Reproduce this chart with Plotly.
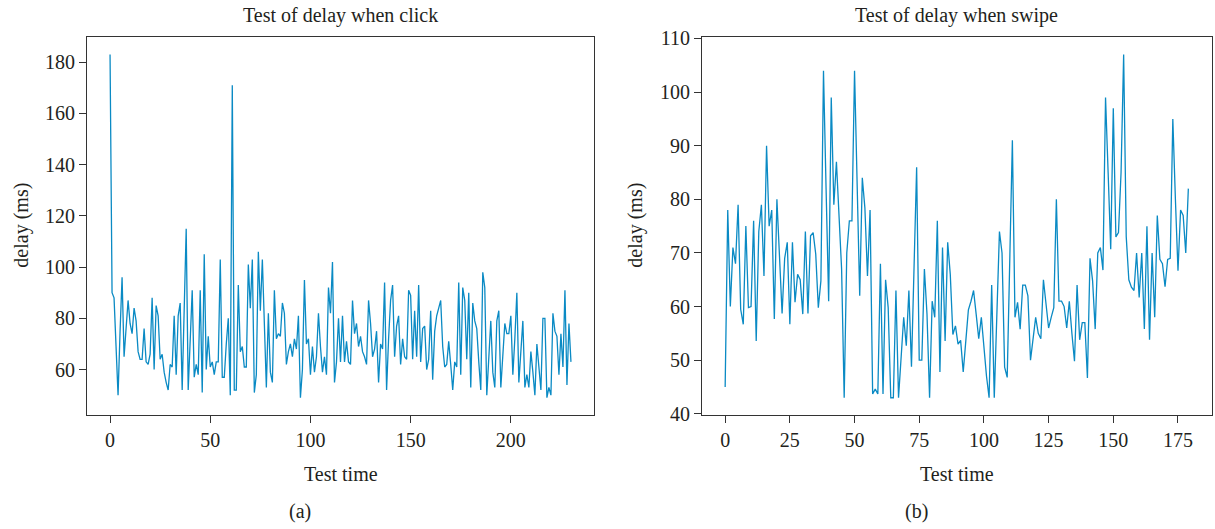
import plotly.graph_objects as go

# ---- data ----
click_delay = [183, 90, 88, 68, 50, 75, 96, 65, 78, 87, 78, 74, 84, 79, 67, 64, 64, 76, 63, 62,
               66, 88, 60, 85, 81, 64, 66, 59, 55, 52, 62, 61, 81, 58, 81, 86, 52, 80, 115, 52,
               72, 91, 57, 62, 58, 91, 51, 105, 60, 73, 61, 63, 58, 63, 63, 103, 57, 57, 70, 80,
               50, 171, 52, 52, 93, 67, 69, 61, 61, 101, 84, 103, 51, 58, 106, 83, 103, 78, 53, 82,
               59, 55, 91, 72, 74, 73, 86, 82, 62, 67, 70, 65, 72, 68, 81, 49, 60, 95, 70, 72,
               58, 69, 59, 65, 82, 69, 59, 65, 58, 92, 82, 102, 55, 63, 80, 63, 81, 63, 71, 63,
               62, 87, 74, 78, 69, 73, 67, 65, 62, 87, 78, 65, 68, 75, 55, 70, 68, 94, 52, 72,
               87, 93, 65, 77, 81, 62, 72, 65, 64, 91, 89, 64, 83, 65, 93, 63, 76, 77, 60, 64,
               83, 56, 75, 81, 84, 87, 69, 61, 62, 71, 62, 52, 63, 61, 94, 58, 92, 87, 64, 90,
               53, 86, 79, 76, 63, 52, 98, 92, 50, 64, 79, 59, 53, 79, 83, 53, 67, 78, 74, 74,
               81, 58, 72, 90, 55, 69, 79, 53, 58, 53, 67, 59, 50, 70, 60, 52, 80, 80, 49, 53,
               50, 82, 75, 73, 58, 74, 61, 91, 54, 78, 63]
click_time = list(range(len(click_delay)))

swipe_delay = [45, 78, 60, 71, 68, 79, 59.5, 56.7, 75, 59.8, 60, 76, 53.6, 74, 79, 65.7, 90, 75, 78, 57.7,
               80, 69, 58.7, 69, 72, 56.7, 72, 60.8, 66, 65, 58.6, 74, 58.7, 73.2, 73.8, 69.8, 59.8, 64.8, 104, 82,
               61, 99, 79, 87, 78, 67, 43, 70, 76, 76, 104, 83, 62, 84, 78.4, 65.7, 78, 43.7, 44.6, 43.7,
               68, 43.7, 65, 59.8, 43, 43, 63, 43, 50.7, 58, 52.7, 63, 48.8, 67, 86, 50, 50, 67, 58.6, 43,
               61, 58, 76, 47.8, 71, 53.6, 72, 66, 54.8, 56.4, 53, 53.7, 47.8, 53.6, 59.4, 61, 63, 58.6, 54, 58,
               52.4, 47, 43, 64, 43, 58, 74, 70, 48.7, 46.8, 69, 91, 58, 60.8, 55.8, 64, 64, 62, 50, 53.6,
               58, 55, 54, 65, 60.5, 56, 58, 59.8, 80, 61, 61, 60, 56, 61, 55, 49.8, 64, 53.8, 57, 57,
               46.7, 69, 64.8, 55.8, 70, 71, 66.8, 99, 85, 70.7, 97, 73, 73.8, 85, 107, 73, 65, 63.6, 63, 70,
               61.7, 70, 55.8, 75, 53.8, 70, 58, 77, 68.8, 68, 63.7, 68.8, 69, 95, 80, 66.7, 78, 77, 70, 82]
swipe_time = list(range(len(swipe_delay)))

left_xticks = [0, 50, 100, 150, 200]
left_yticks = [60, 80, 100, 120, 140, 160, 180]
right_xticks = [0, 25, 50, 75, 100, 125, 150, 175]
right_yticks = [40, 50, 60, 70, 80, 90, 100, 110]

titles = ["Test of delay when click", "Test of delay when swipe"]
panel_labels = ["(a)", "(b)"]
x_title = "Test time"
y_title = "delay (ms)"

# ---- styling ----
W, H = 1215, 529
FONT = "Liberation Serif, Times New Roman, serif"
LINE_COLOR = "#0a8ac4"
AX_COLOR = "#333333"
FS = 20

# empirical vertical correction of the capture (target px -> figure px)
Y_OFF, Y_SCALE = 8.5, 0.966


def px(x):
    return x / W


def py(y):
    yf = (y - Y_OFF) / Y_SCALE
    return 1 - yf / H


def pad(vals, frac=0.05):
    lo, hi = min(vals), max(vals)
    m = (hi - lo) * frac
    return [lo - m, hi + m]


fig = go.Figure()
fig.add_trace(go.Scatter(x=click_time, y=click_delay, mode="lines",
                         line=dict(color=LINE_COLOR, width=1.3),
                         xaxis="x", yaxis="y", showlegend=False))
fig.add_trace(go.Scatter(x=swipe_time, y=swipe_delay, mode="lines",
                         line=dict(color=LINE_COLOR, width=1.3),
                         xaxis="x2", yaxis="y2", showlegend=False))

axis_common = dict(showgrid=False, zeroline=False, showline=True, mirror=True,
                   linecolor=AX_COLOR, linewidth=1.2, ticks="outside", ticklen=7,
                   tickwidth=1.2, tickcolor=AX_COLOR,
                   tickfont=dict(family=FONT, size=FS, color="#231f20"))

left_dom = [px(87), px(594)]
right_dom = [px(702), px(1211.5)]
y_dom = [py(415), py(36)]

fig.update_layout(
    width=W, height=H,
    margin=dict(l=0, r=0, t=0, b=0),
    paper_bgcolor="white", plot_bgcolor="white",
    xaxis=dict(domain=left_dom, range=pad(click_time), tickvals=left_xticks,
               anchor="y", **axis_common),
    yaxis=dict(domain=y_dom, range=pad(click_delay), tickvals=left_yticks,
               anchor="x", **axis_common),
    xaxis2=dict(domain=right_dom, range=pad(swipe_time), tickvals=right_xticks,
                anchor="y2", **axis_common),
    yaxis2=dict(domain=y_dom, range=pad(swipe_delay), tickvals=right_yticks,
                anchor="x2", **axis_common),
)

text_font = dict(family=FONT, size=FS, color="#231f20")
ann = []
centers = [(87 + 594) / 2, (702 + 1211.5) / 2]
for i in range(2):
    ann.append(dict(text=titles[i], x=px(centers[i]), y=py(14), xref="paper", yref="paper",
                    xanchor="center", yanchor="middle", showarrow=False, font=text_font))
    ann.append(dict(text=x_title, x=px(centers[i]), y=py(474), xref="paper", yref="paper",
                    xanchor="center", yanchor="middle", showarrow=False, font=text_font))
ann.append(dict(text=panel_labels[0], x=px(300), y=py(512), xref="paper", yref="paper",
                xanchor="center", yanchor="middle", showarrow=False, font=text_font))
ann.append(dict(text=panel_labels[1], x=px(916), y=py(512), xref="paper", yref="paper",
                xanchor="center", yanchor="middle", showarrow=False, font=text_font))
ann.append(dict(text=y_title, x=px(22), y=py(225), xref="paper", yref="paper",
                xanchor="center", yanchor="middle", textangle=-90, showarrow=False, font=text_font))
ann.append(dict(text=y_title, x=px(636), y=py(225), xref="paper", yref="paper",
                xanchor="center", yanchor="middle", textangle=-90, showarrow=False, font=text_font))
fig.update_layout(annotations=ann)

post = (
    "var h=document.documentElement, b=document.body;"
    "h.style.margin='0';h.style.padding='0';h.style.overflow='hidden';"
    "b.style.margin='0';b.style.padding='0';b.style.overflow='hidden';"
    "var d=document.getElementsByClassName('plotly-graph-div')[0];"
    "d.style.position='fixed';d.style.left='0px';d.style.top='0px';"
)

fig.write_html("out.html", config={"displayModeBar": False}, post_script=post)
